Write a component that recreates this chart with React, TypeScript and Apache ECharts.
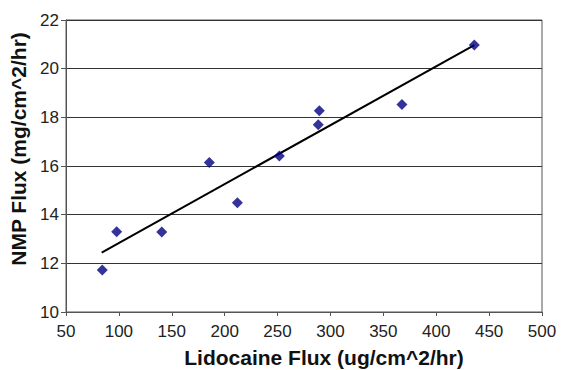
import React, { useEffect, useRef } from "react";
import * as echarts from "echarts";

const lidocaineFlux = [84.3, 97.9, 140.5, 185.5, 212.0, 251.7, 288.5, 289.5, 367.6, 436.0];
const nmpFlux = [11.73, 13.3, 13.29, 16.14, 14.49, 16.41, 17.7, 18.27, 18.53, 20.97];
const trendX = [83.7, 436.0];
const trendY = [12.44, 20.97];

const FONT = "'Liberation Sans', Arial, Helvetica, sans-serif";

export default function App() {
  const ref = useRef<HTMLDivElement>(null);
  useEffect(() => {
    if (!ref.current) return;
    const chart = echarts.init(ref.current, null, { renderer: "svg" });
    chart.setOption({
      animation: false,
      backgroundColor: "#ffffff",
      grid: {
        left: 66,
        top: 20,
        right: 23,
        bottom: 58,
        containLabel: false,
        outerBoundsMode: "none",
        show: true,
        borderColor: "#555",
        borderWidth: 1,
        backgroundColor: "transparent",
      },
      xAxis: {
        type: "value",
        min: 50,
        max: 500,
        interval: 50,
        name: "Lidocaine Flux (ug/cm^2/hr)",
        nameLocation: "middle",
        nameGap: 35,
        nameTextStyle: {
          fontFamily: FONT,
          fontWeight: "bold",
          fontSize: 21,
          color: "#111",
          padding: [0, 0, 0, 40],
        },
        axisLine: { show: true, lineStyle: { color: "#555", width: 1 } },
        axisTick: { show: true, inside: false, length: 4, lineStyle: { color: "#555" } },
        axisLabel: { fontFamily: FONT, fontSize: 17, color: "#222", margin: 11 },
        splitLine: { show: false },
      },
      yAxis: {
        type: "value",
        min: 10,
        max: 22,
        interval: 2,
        name: "NMP Flux (mg/cm^2/hr)",
        nameLocation: "middle",
        nameGap: 34,
        nameTextStyle: {
          fontFamily: FONT,
          fontWeight: "bold",
          fontSize: 21,
          color: "#111",
          padding: [0, 0, 0, 34],
        },
        axisLine: { show: true, lineStyle: { color: "#555", width: 1 } },
        axisTick: { show: true, inside: false, length: 5, lineStyle: { color: "#555" } },
        axisLabel: { fontFamily: FONT, fontSize: 17, color: "#222", margin: 7 },
        splitLine: { show: true, lineStyle: { color: "#333", width: 1 } },
      },
      series: [
        {
          type: "line",
          data: trendX.map((x, i) => [x, trendY[i]]),
          showSymbol: false,
          symbol: "none",
          lineStyle: { color: "#000", width: 2 },
          silent: true,
          z: 2,
        },
        {
          type: "scatter",
          data: lidocaineFlux.map((x, i) => [x, nmpFlux[i]]),
          symbol: "diamond",
          symbolSize: 11,
          itemStyle: { color: "#000080" },
          z: 3,
        },
      ],
    });
    return () => chart.dispose();
  }, []);
  return (
    <div
      ref={ref}
      style={{ position: "fixed", left: 0, top: 0, width: 565, height: 370, background: "#fff" }}
    />
  );
}
